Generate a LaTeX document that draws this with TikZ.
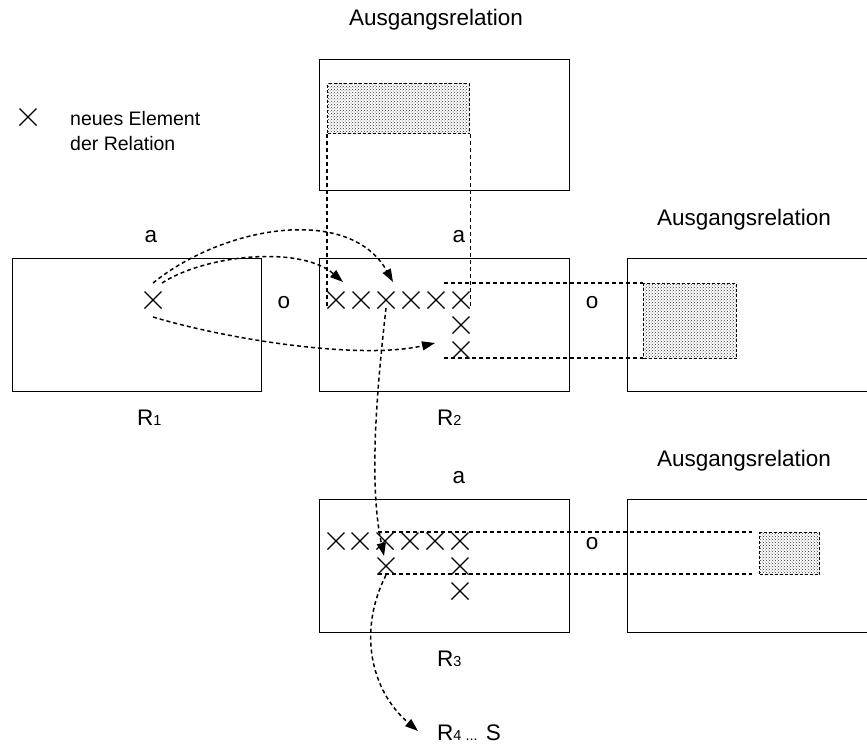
\documentclass[tikz,border=0pt]{standalone}
\usepackage{fontspec}
\setmainfont{Liberation Sans}
\usetikzlibrary{patterns,shapes.misc,arrows.meta}

\begin{document}
\begin{tikzpicture}[x=1pt,y=-1pt,
  rel/.style={draw, line width=1.4pt, inner sep=0pt, anchor=north west},
  link/.style={line width=1.5pt, dash pattern=on 4pt off 3pt},
  flow/.style={link, -{Triangle[length=13pt,width=9pt]}},
  selbox/.style={pattern=crosshatch dots, pattern color=black!80, draw,
                 line width=1.3pt, dash pattern=on 3pt off 2pt, inner sep=0pt, anchor=north west},
  elem/.style={cross out, draw, line width=1.3pt, minimum size=17pt, inner sep=0pt, outer sep=0pt},
  lbl/.style={font=\fontsize{22.5}{26}\selectfont, inner sep=0pt},
  note/.style={font=\fontsize{19.5}{25}\selectfont, inner sep=0pt, align=left},
]
\useasboundingbox (0,0) rectangle (867,745);
\clip (0,0) rectangle (867,745);

% relation boxes
\node[rel, minimum width=250pt, minimum height=131pt] (top) at (319,59) {};
\node[rel, minimum width=249pt, minimum height=133pt] (R1) at (12,258) {};
\node[rel, minimum width=250pt, minimum height=133pt] (R2) at (319,258) {};
\node[rel, minimum width=270pt, minimum height=133pt] (out1) at (627,258) {};
\node[rel, minimum width=250pt, minimum height=133pt] (R3) at (319,499) {};
\node[rel, minimum width=270pt, minimum height=133pt] (out2) at (627,499) {};

% selected parts of the base relation
\node[selbox, minimum width=142pt, minimum height=50pt] (sel0) at (327,83) {};
\node[selbox, minimum width=93pt, minimum height=75pt] (sel1) at (643,283) {};
\node[selbox, minimum width=60pt, minimum height=42pt] (sel2) at (759,532) {};

% new elements
\node[elem] (lx) at (28,117) {};
\node[elem] (r1x) at (153,300) {};
\foreach \i/\x in {a/336,b/361,c/386,d/411,e/436,f/461}
  \node[elem] (r2\i) at (\x,300) {};
\node[elem] (r2g) at (461,325) {};
\node[elem] (r2h) at (461,350) {};
\foreach \i/\x in {a/336,b/360,c/385,d/410,e/435,f/460}
  \node[elem] (r3\i) at (\x,541) {};
\node[elem] (r3g) at (386,566) {};
\node[elem] (r3h) at (460,566) {};
\node[elem] (r3i) at (460,591) {};

% texts
\node[lbl, anchor=base] (t0) at (436,25) {Ausgangsrelation};
\node[lbl, anchor=base] (t1) at (744,225) {Ausgangsrelation};
\node[lbl, anchor=base] (t2) at (744,466) {Ausgangsrelation};
\node[note, anchor=base west] (leg1) at (70,125) {neues Element};
\node[note, anchor=base west] (leg2) at (70,150) {der Relation};
\node[lbl, anchor=base] (a1) at (151,242) {a};
\node[lbl, anchor=base] (a2) at (459,242) {a};
\node[lbl, anchor=base] (a3) at (459,483) {a};
\node[lbl, anchor=base] (o1) at (284,308) {o};
\node[lbl, anchor=base] (o2) at (592,308) {o};
\node[lbl, anchor=base] (o3) at (592,549) {o};
\node[lbl, anchor=base west] (n1) at (137,425) {R{\fontsize{14.5}{14}\selectfont 1}};
\node[lbl, anchor=base west] (n2) at (437,425) {R{\fontsize{14.5}{14}\selectfont 2}};
\node[lbl, anchor=base west] (n3) at (437,666) {R{\fontsize{14.5}{14}\selectfont 3}};
\node[lbl, anchor=base west] (n4) at (437,740) {R{\fontsize{14.5}{14}\selectfont 4 ...} S};

% projection lines
\draw[link] (sel0.south west) -- (sel0.south west |- r2a.south);
\draw[link] (sel0.south east) -- (sel0.south east |- r2f.south);
\coordinate (h1) at (444,283);
\coordinate (h2) at (444,358);
\draw[link] (h1) -- (h1 -| sel1.west);
\draw[link] (h2) -- (h2 -| sel1.west);
\coordinate (h3) at (378,532);
\coordinate (h4) at (378,574);
\coordinate (h5) at (752,532);
\coordinate (h6) at (752,574);
\draw[link] (h3) -- (h5);
\draw[link] (h4) -- (h6);

% derivation arrows
\coordinate (s1) at (153,283);
\coordinate (s2) at (162,283);
\coordinate (s3) at (153,317);
\coordinate (e1) at (393,282);
\coordinate (e2) at (343,282);
\coordinate (e3) at (435,343);
\coordinate (s4) at (386,308);
\coordinate (e4) at (384,556);
\coordinate (s5) at (386,575);
\coordinate (e5) at (418,731);
\draw[flow] (s1) .. controls (225,225) and (350,205) .. (e1);
\draw[flow] (s2) .. controls (205,255) and (300,245) .. (e2);
\draw[flow] (s3) .. controls (230,340) and (360,360) .. (e3);
\draw[flow] (s4) .. controls (378,380) and (368,480) .. (e4);
\draw[flow] (s5) .. controls (358,630) and (370,690) .. (e5);
\end{tikzpicture}
\end{document}
